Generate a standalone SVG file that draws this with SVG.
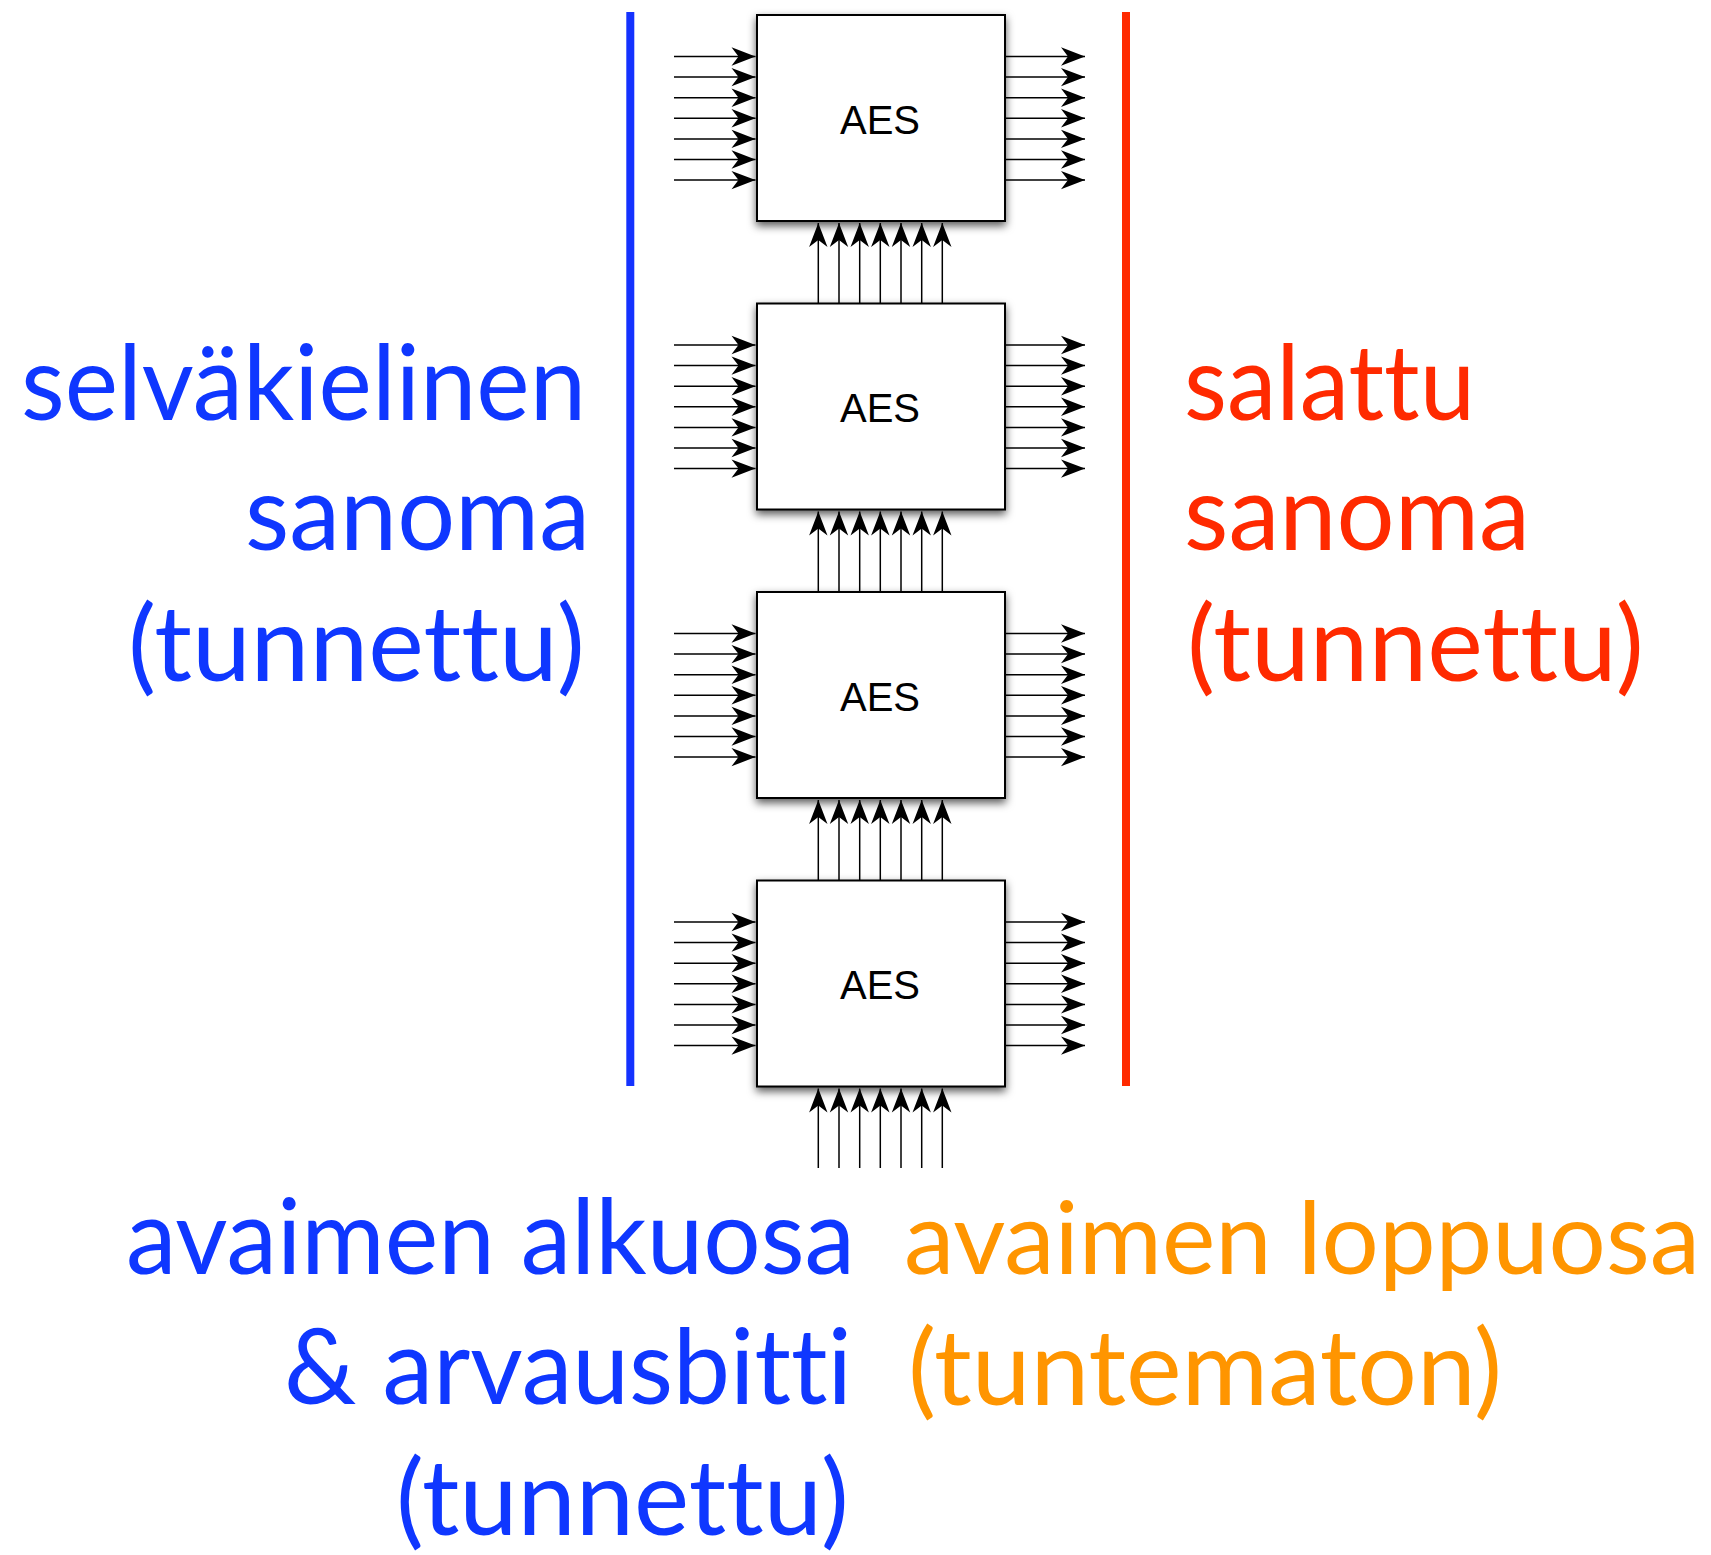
<svg xmlns="http://www.w3.org/2000/svg" width="1711" height="1555" viewBox="0 0 1711 1555">
<style>
.box{fill:#fff;stroke:#000;stroke-width:2;filter:url(#sh)}
.aes{font-family:"Liberation Sans",Arial,sans-serif;font-size:40px;fill:#000;text-anchor:middle}
.ar{stroke:#000;stroke-width:1.5;fill:none;marker-end:url(#ah)}
.big{font-family:Lato,"Open Sans",sans-serif;font-size:105px;font-variant-ligatures:none;font-feature-settings:"liga" 0,"clig" 0,"dlig" 0}
.blue{fill:#0F37FF}
.red{fill:#FF2A00}
.orange{fill:#FF9500}
</style>
<defs>
<filter id="sh" x="-20%" y="-20%" width="140%" height="150%">
<feDropShadow dx="0" dy="4" stdDeviation="4" flood-color="#000" flood-opacity="0.65"/>
</filter>
<marker id="ah" markerUnits="userSpaceOnUse" viewBox="-25 -10 26 20" refX="0" refY="0" markerWidth="26" markerHeight="20" orient="auto">
<path d="M0,0 L-24,-9.2 L-17,0 L-24,9.2 Z" fill="#000"/>
</marker>
</defs>
<rect width="1711" height="1555" fill="#fff"/>

<g id="dividers">
<line x1="630.3" y1="12" x2="630.3" y2="1086" stroke="#1432FF" stroke-width="8"/>
<line x1="1126" y1="12" x2="1126" y2="1086" stroke="#FF2A00" stroke-width="8"/>
</g>

<g id="connectors">
<!-- box 1 inputs -->
<line class="ar" x1="674" y1="56.5" x2="755.5" y2="56.5"/>
<line class="ar" x1="674" y1="77.1" x2="755.5" y2="77.1"/>
<line class="ar" x1="674" y1="97.7" x2="755.5" y2="97.7"/>
<line class="ar" x1="674" y1="118.3" x2="755.5" y2="118.3"/>
<line class="ar" x1="674" y1="138.9" x2="755.5" y2="138.9"/>
<line class="ar" x1="674" y1="159.5" x2="755.5" y2="159.5"/>
<line class="ar" x1="674" y1="180.1" x2="755.5" y2="180.1"/>
<!-- box 1 outputs -->
<line class="ar" x1="1006" y1="56.5" x2="1085" y2="56.5"/>
<line class="ar" x1="1006" y1="77.1" x2="1085" y2="77.1"/>
<line class="ar" x1="1006" y1="97.7" x2="1085" y2="97.7"/>
<line class="ar" x1="1006" y1="118.3" x2="1085" y2="118.3"/>
<line class="ar" x1="1006" y1="138.9" x2="1085" y2="138.9"/>
<line class="ar" x1="1006" y1="159.5" x2="1085" y2="159.5"/>
<line class="ar" x1="1006" y1="180.1" x2="1085" y2="180.1"/>
<!-- box 2 inputs -->
<line class="ar" x1="674" y1="345" x2="755.5" y2="345"/>
<line class="ar" x1="674" y1="365.6" x2="755.5" y2="365.6"/>
<line class="ar" x1="674" y1="386.2" x2="755.5" y2="386.2"/>
<line class="ar" x1="674" y1="406.8" x2="755.5" y2="406.8"/>
<line class="ar" x1="674" y1="427.4" x2="755.5" y2="427.4"/>
<line class="ar" x1="674" y1="448" x2="755.5" y2="448"/>
<line class="ar" x1="674" y1="468.6" x2="755.5" y2="468.6"/>
<!-- box 2 outputs -->
<line class="ar" x1="1006" y1="345" x2="1085" y2="345"/>
<line class="ar" x1="1006" y1="365.6" x2="1085" y2="365.6"/>
<line class="ar" x1="1006" y1="386.2" x2="1085" y2="386.2"/>
<line class="ar" x1="1006" y1="406.8" x2="1085" y2="406.8"/>
<line class="ar" x1="1006" y1="427.4" x2="1085" y2="427.4"/>
<line class="ar" x1="1006" y1="448" x2="1085" y2="448"/>
<line class="ar" x1="1006" y1="468.6" x2="1085" y2="468.6"/>
<!-- box 3 inputs -->
<line class="ar" x1="674" y1="633.5" x2="755.5" y2="633.5"/>
<line class="ar" x1="674" y1="654.1" x2="755.5" y2="654.1"/>
<line class="ar" x1="674" y1="674.7" x2="755.5" y2="674.7"/>
<line class="ar" x1="674" y1="695.3" x2="755.5" y2="695.3"/>
<line class="ar" x1="674" y1="715.9" x2="755.5" y2="715.9"/>
<line class="ar" x1="674" y1="736.5" x2="755.5" y2="736.5"/>
<line class="ar" x1="674" y1="757.1" x2="755.5" y2="757.1"/>
<!-- box 3 outputs -->
<line class="ar" x1="1006" y1="633.5" x2="1085" y2="633.5"/>
<line class="ar" x1="1006" y1="654.1" x2="1085" y2="654.1"/>
<line class="ar" x1="1006" y1="674.7" x2="1085" y2="674.7"/>
<line class="ar" x1="1006" y1="695.3" x2="1085" y2="695.3"/>
<line class="ar" x1="1006" y1="715.9" x2="1085" y2="715.9"/>
<line class="ar" x1="1006" y1="736.5" x2="1085" y2="736.5"/>
<line class="ar" x1="1006" y1="757.1" x2="1085" y2="757.1"/>
<!-- box 4 inputs -->
<line class="ar" x1="674" y1="922" x2="755.5" y2="922"/>
<line class="ar" x1="674" y1="942.6" x2="755.5" y2="942.6"/>
<line class="ar" x1="674" y1="963.2" x2="755.5" y2="963.2"/>
<line class="ar" x1="674" y1="983.8" x2="755.5" y2="983.8"/>
<line class="ar" x1="674" y1="1004.4" x2="755.5" y2="1004.4"/>
<line class="ar" x1="674" y1="1025" x2="755.5" y2="1025"/>
<line class="ar" x1="674" y1="1045.6" x2="755.5" y2="1045.6"/>
<!-- box 4 outputs -->
<line class="ar" x1="1006" y1="922" x2="1085" y2="922"/>
<line class="ar" x1="1006" y1="942.6" x2="1085" y2="942.6"/>
<line class="ar" x1="1006" y1="963.2" x2="1085" y2="963.2"/>
<line class="ar" x1="1006" y1="983.8" x2="1085" y2="983.8"/>
<line class="ar" x1="1006" y1="1004.4" x2="1085" y2="1004.4"/>
<line class="ar" x1="1006" y1="1025" x2="1085" y2="1025"/>
<line class="ar" x1="1006" y1="1045.6" x2="1085" y2="1045.6"/>
<!-- box 2 -> box 1 -->
<line class="ar" x1="818.3" y1="303.5" x2="818.3" y2="223"/>
<line class="ar" x1="839" y1="303.5" x2="839" y2="223"/>
<line class="ar" x1="859.7" y1="303.5" x2="859.7" y2="223"/>
<line class="ar" x1="880.3" y1="303.5" x2="880.3" y2="223"/>
<line class="ar" x1="901" y1="303.5" x2="901" y2="223"/>
<line class="ar" x1="921.7" y1="303.5" x2="921.7" y2="223"/>
<line class="ar" x1="942.3" y1="303.5" x2="942.3" y2="223"/>
<!-- box 3 -> box 2 -->
<line class="ar" x1="818.3" y1="592" x2="818.3" y2="511.5"/>
<line class="ar" x1="839" y1="592" x2="839" y2="511.5"/>
<line class="ar" x1="859.7" y1="592" x2="859.7" y2="511.5"/>
<line class="ar" x1="880.3" y1="592" x2="880.3" y2="511.5"/>
<line class="ar" x1="901" y1="592" x2="901" y2="511.5"/>
<line class="ar" x1="921.7" y1="592" x2="921.7" y2="511.5"/>
<line class="ar" x1="942.3" y1="592" x2="942.3" y2="511.5"/>
<!-- box 4 -> box 3 -->
<line class="ar" x1="818.3" y1="880.5" x2="818.3" y2="800"/>
<line class="ar" x1="839" y1="880.5" x2="839" y2="800"/>
<line class="ar" x1="859.7" y1="880.5" x2="859.7" y2="800"/>
<line class="ar" x1="880.3" y1="880.5" x2="880.3" y2="800"/>
<line class="ar" x1="901" y1="880.5" x2="901" y2="800"/>
<line class="ar" x1="921.7" y1="880.5" x2="921.7" y2="800"/>
<line class="ar" x1="942.3" y1="880.5" x2="942.3" y2="800"/>
<!-- key bits -> box 4 -->
<line class="ar" x1="818.3" y1="1168" x2="818.3" y2="1088.5"/>
<line class="ar" x1="839" y1="1168" x2="839" y2="1088.5"/>
<line class="ar" x1="859.7" y1="1168" x2="859.7" y2="1088.5"/>
<line class="ar" x1="880.3" y1="1168" x2="880.3" y2="1088.5"/>
<line class="ar" x1="901" y1="1168" x2="901" y2="1088.5"/>
<line class="ar" x1="921.7" y1="1168" x2="921.7" y2="1088.5"/>
<line class="ar" x1="942.3" y1="1168" x2="942.3" y2="1088.5"/>
</g>

<g id="aes1"><rect class="box" x="757" y="15" width="248" height="206"/><text class="aes" x="880" y="133.5">AES</text></g>
<g id="aes2"><rect class="box" x="757" y="303.5" width="248" height="206"/><text class="aes" x="880" y="422">AES</text></g>
<g id="aes3"><rect class="box" x="757" y="592" width="248" height="206"/><text class="aes" x="880" y="710.5">AES</text></g>
<g id="aes4"><rect class="box" x="757" y="880.5" width="248" height="206"/><text class="aes" x="880" y="999">AES</text></g>

<g id="label-plaintext" class="big blue">
<text x="21" y="420" textLength="565" lengthAdjust="spacingAndGlyphs">selväkielinen</text>
<text x="245" y="550" textLength="345" lengthAdjust="spacingAndGlyphs">sanoma</text>
<text x="128" y="681" textLength="457" lengthAdjust="spacingAndGlyphs">(tunnettu)</text>
</g>

<g id="label-ciphertext" class="big red">
<text x="1184" y="420" textLength="291" lengthAdjust="spacingAndGlyphs">salattu</text>
<text x="1184" y="550" textLength="346" lengthAdjust="spacingAndGlyphs">sanoma</text>
<text x="1187" y="681" textLength="457" lengthAdjust="spacingAndGlyphs">(tunnettu)</text>
</g>

<g id="label-key-known" class="big blue">
<text x="126" y="1274" textLength="729" lengthAdjust="spacingAndGlyphs">avaimen alkuosa</text>
<text x="284" y="1404" textLength="568" lengthAdjust="spacingAndGlyphs">&amp; arvausbitti</text>
<text x="396" y="1535" textLength="453" lengthAdjust="spacingAndGlyphs">(tunnettu)</text>
</g>

<g id="label-key-unknown" class="big orange">
<text x="904" y="1274" font-size="100" textLength="796" lengthAdjust="spacingAndGlyphs">avaimen loppuosa</text>
<text x="908" y="1405" textLength="594" lengthAdjust="spacingAndGlyphs">(tuntematon)</text>
</g>
</svg>
